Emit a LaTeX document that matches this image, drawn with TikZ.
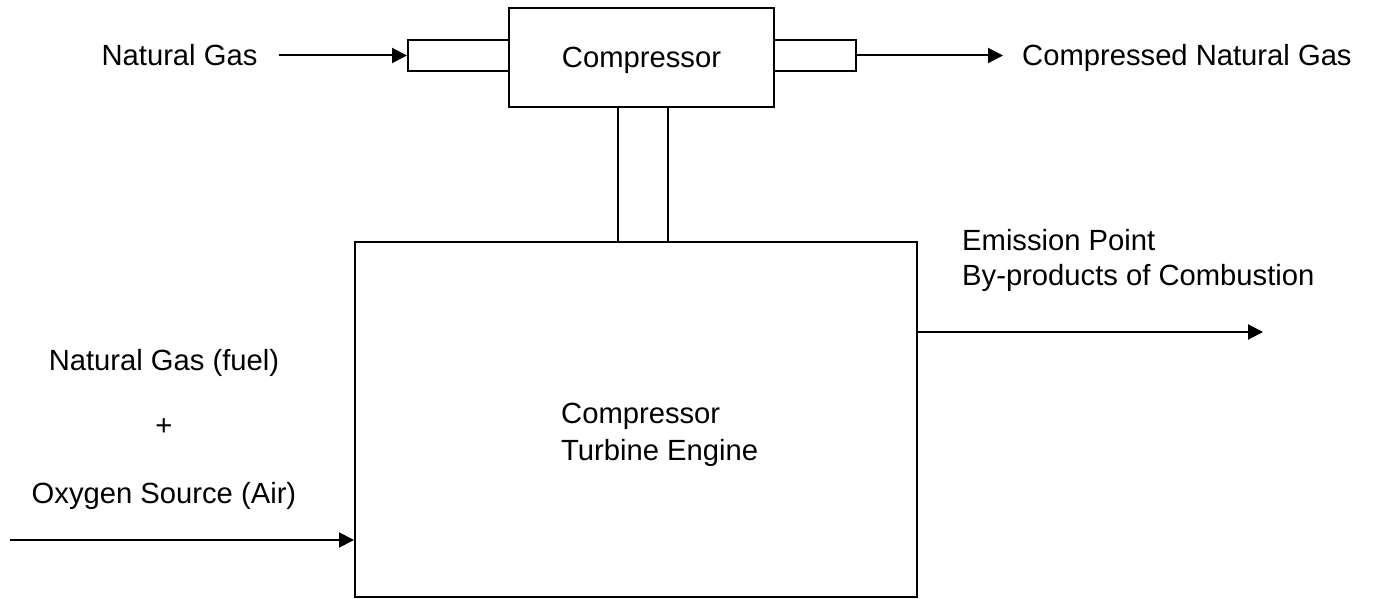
\documentclass[tikz,border=0pt]{standalone}
\usepackage{fontspec}
\setmainfont{Liberation Sans}
\usetikzlibrary{arrows.meta}
\begin{document}
\begin{tikzpicture}[x=1pt,y=-1pt,
  every node/.style={font=\fontsize{29.2}{35}\selectfont},
  txt/.style={inner sep=0pt, text height=20.9pt, text depth=0pt},
  blk/.style={draw, line width=2pt, inner sep=0pt, text height=20.9pt, text depth=0pt},
  arr/.style={line width=2pt, -{Triangle[length=15pt,width=15pt]}}]
\useasboundingbox (0,0) rectangle (1375,599);
% blocks
\node[blk, minimum width=265pt, minimum height=99pt] (comp) at (641.5,57.5) {Compressor};
\node[blk, minimum width=101pt, minimum height=31pt] (inpipe) at (458.5,55.5) {};
\node[blk, minimum width=82pt, minimum height=31pt] (outpipe) at (815,55.5) {};
\node[blk, minimum width=50pt, minimum height=135pt] (shaft) at (643,174.5) {};
\node[blk, minimum width=562pt, minimum height=355pt] (engine) at (636,419.5) {};
% labels
\node[txt] (ng) at (179.5,55.5) {Natural Gas};
\node[txt, anchor=west] (cng) at (1022,55.5) {Compressed Natural Gas};
\node[txt] (fuel) at (164,360) {Natural Gas (fuel)};
\node[txt] (plus) at (164,425) {+};
\node[txt] (air) at (164,493) {Oxygen Source (Air)};
\node[txt, anchor=west] (eng1) at (561,413) {Compressor};
\node[txt, anchor=west] (eng2) at (561,450) {Turbine Engine};
\node[txt, anchor=west] (em1) at (962,240) {Emission Point};
\node[txt, anchor=west] (em2) at (962,275) {By-products of Combustion};
% connectors
\coordinate (emit) at (1263,332);
\coordinate (airin) at (10,540);
\draw[arr, shorten <=21pt] (ng.east) -- (inpipe.west);
\draw[arr, shorten >=19pt] (outpipe.east) -- (cng.west);
\draw[arr] (engine.east |- emit) -- (emit);
\draw[arr] (airin) -- (airin -| engine.west);
\end{tikzpicture}
\end{document}
